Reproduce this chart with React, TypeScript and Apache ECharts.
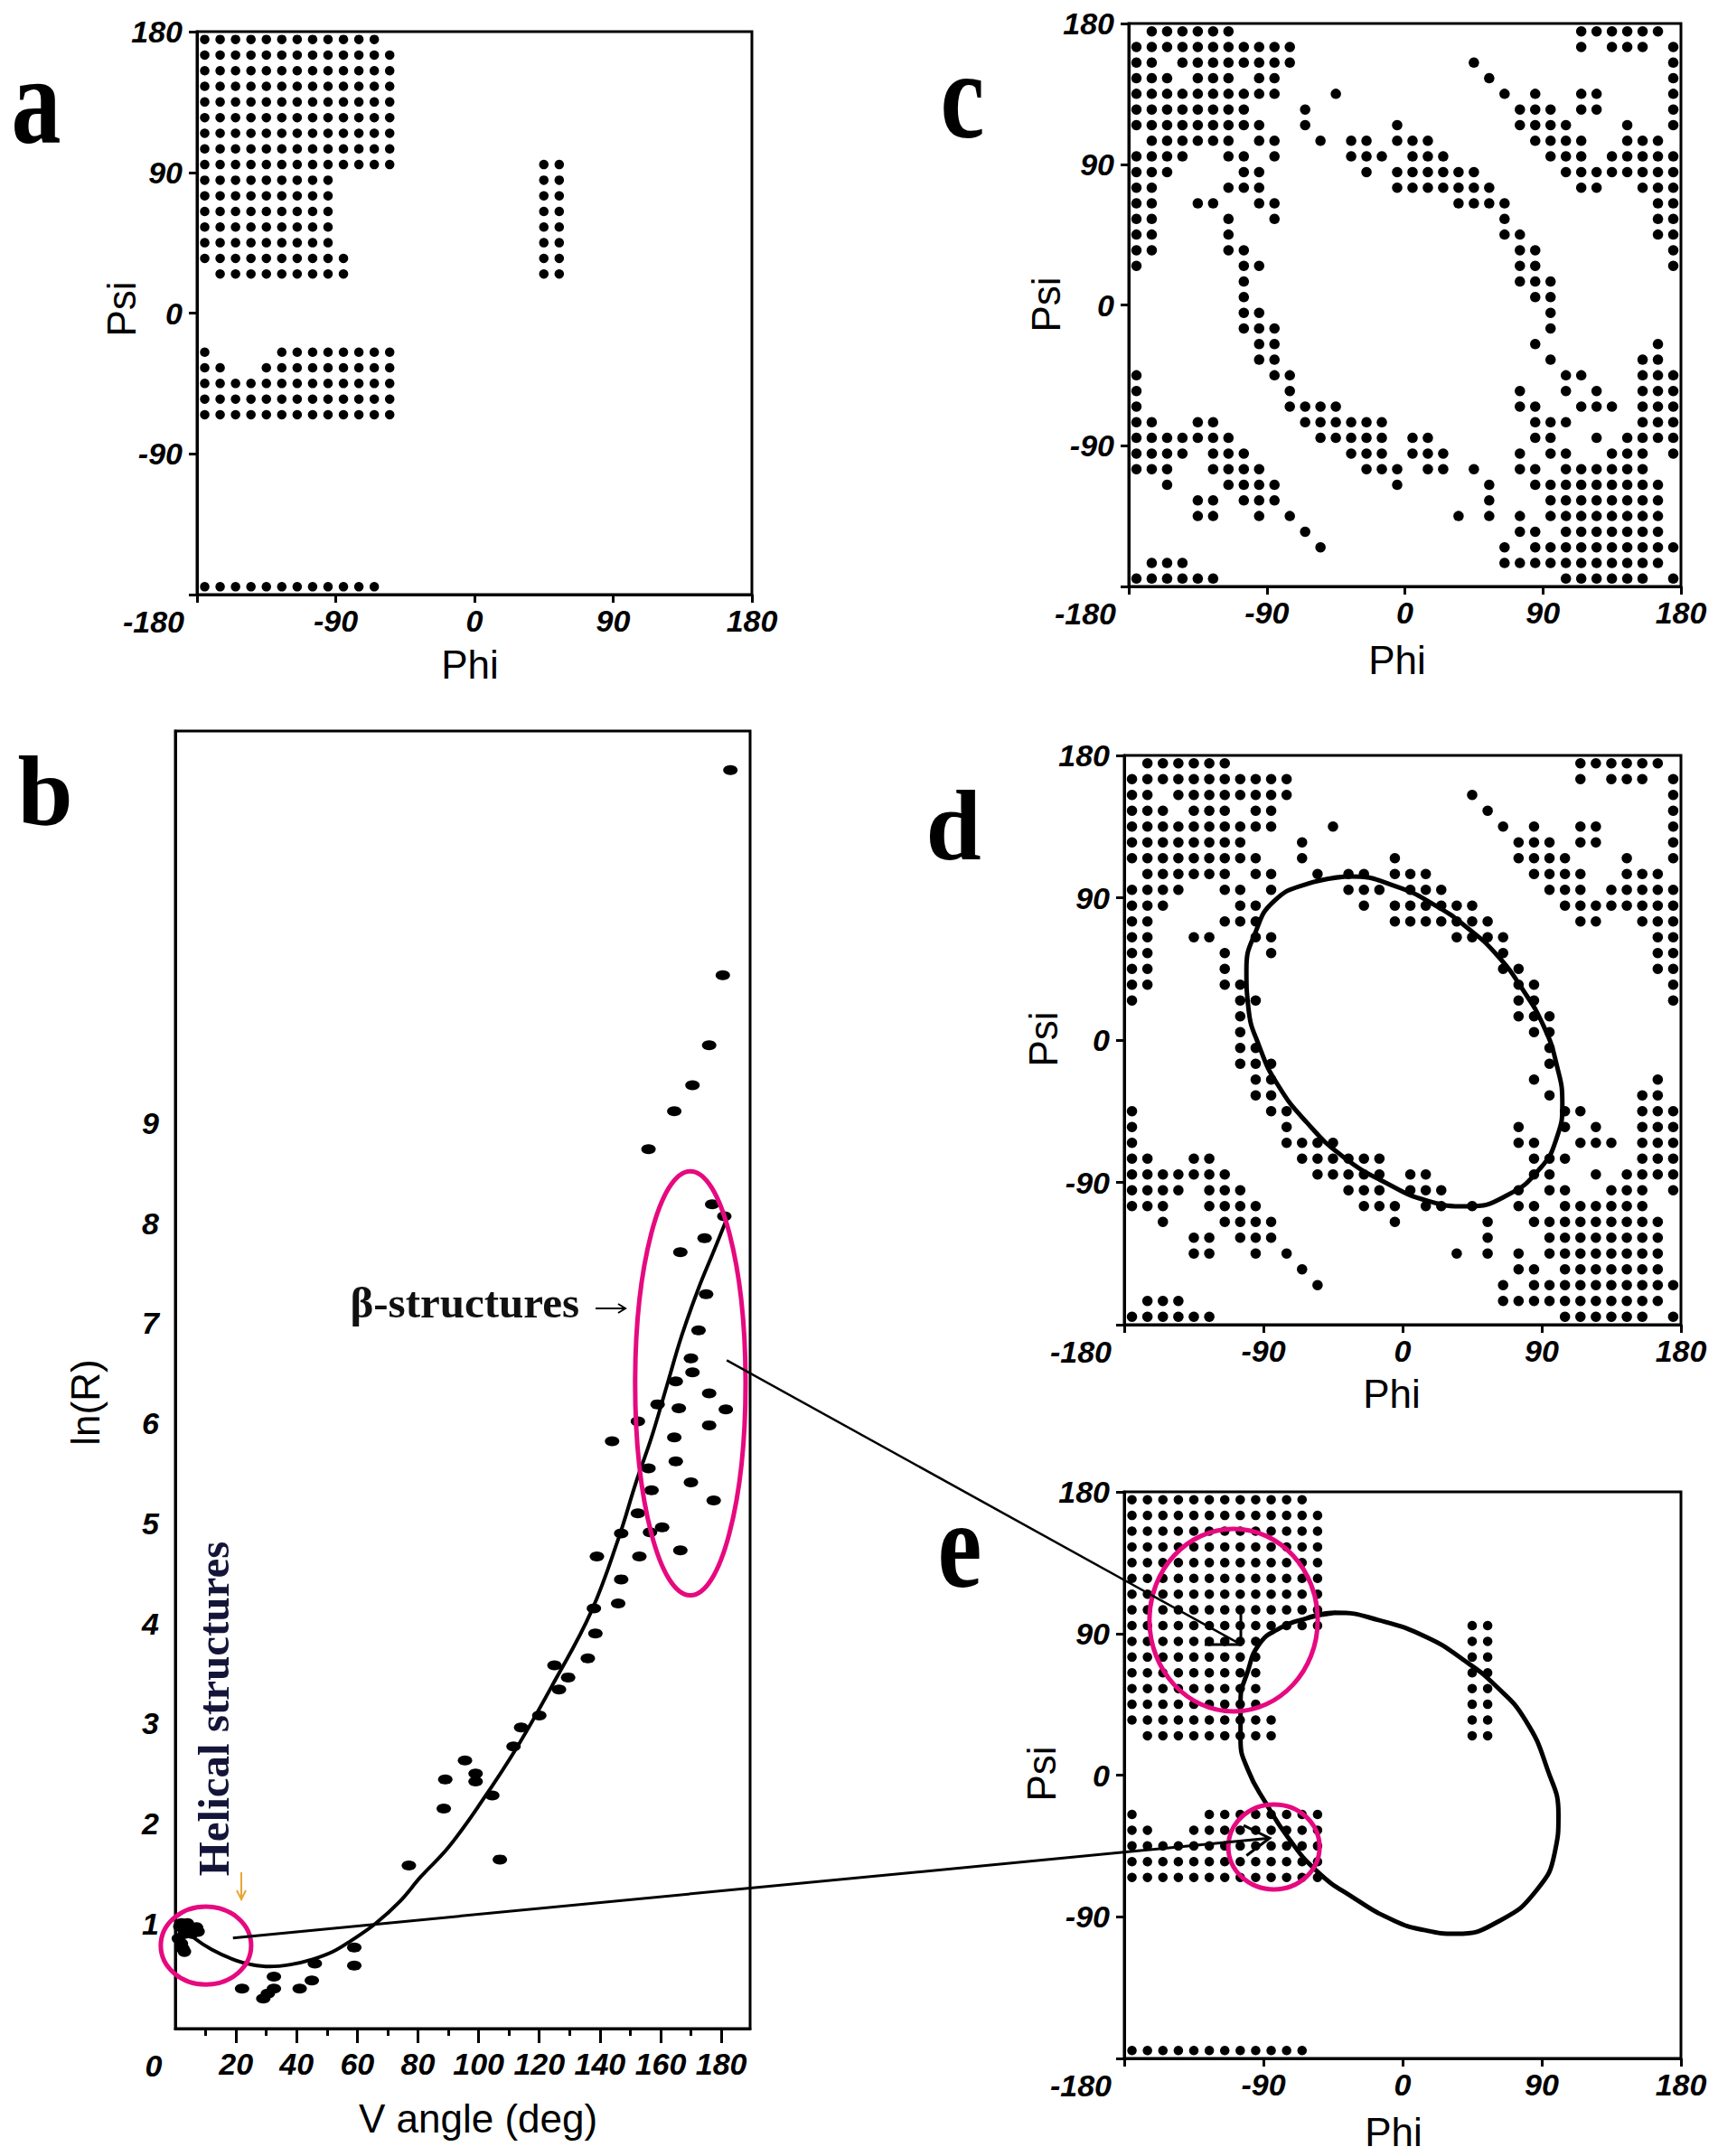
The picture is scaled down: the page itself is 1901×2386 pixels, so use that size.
import React, { useEffect, useRef } from "react";
import * as echarts from "echarts";

const CANVAS_W = 1901;
const CANVAS_H = 2386;

// ---------- Ramachandran maps (10° cells, centres -175 … 175) ----------
// one string per psi row, top (psi = 175) to bottom (psi = -175);
// entries are phi column indices: 0 → -175°, 1 → -165°, … 35 → 175°
const rowsA: string[] = [
  "0-11", "0-12", "0-12", "0-12", "0-12", "0-12", "0-12", "0-12",
  "0-12,22-23", "0-8,22-23", "0-8,22-23", "0-8,22-23", "0-8,22-23", "0-8,22-23",
  "0-9,22-23", "1-9,22-23",
  "", "", "", "",
  "0,5-12", "0-1,4-12", "0-12", "0-12", "0-12",
  "", "", "", "", "", "", "", "", "", "",
  "0-11",
];

const rowsC: string[] = [
  "1-6,29-34",
  "0-10,29,31-33,35",
  "0-1,3-10,22,35",
  "0-2,4-6,8-9,23,35",
  "0-9,13,24,26,29-30,35",
  "0-7,11,25-27,29-30,35",
  "0-8,11,17,25-28,32,35",
  "1-6,8-9,12,14-15,17-19,26-29,32-34",
  "0-3,6-7,9,14-16,18-20,27-29,31-35",
  "0-2,7-8,15,17-22,28-35",
  "0-1,6-8,17-23,29-30,33-35",
  "0-1,4-5,8-9,21-24,34-35",
  "0-1,6,9,24,34-35",
  "0-1,6,24-25,34-35",
  "0-1,6-7,25-26,35",
  "0,7-8,25-26,35",
  "7,25-27",
  "7,26-27",
  "7-8,27",
  "7-9,27",
  "8-9,26,34",
  "8-9,27,33-34",
  "0,9-10,28-29,33-35",
  "0,10,25,28,30,33-35",
  "0,10-13,25-26,29-31,33-35",
  "0-1,4-5,11-16,26-28,33-35",
  "0-6,12-16,18-19,26-27,30,32-35",
  "0-3,5-7,14-16,18-20,25,27-28,31-33,35",
  "0-2,5-8,15-17,19-20,22,25-26,28-33",
  "2,6-9,17,23,26-34",
  "4-5,7-9,23,27-34",
  "4-5,8,10,21,23,25,27-34",
  "11,25-26,28-34",
  "12,24,26-35",
  "1-3,24-34",
  "0-5,28-33,35",
];

// closed curves drawn over panels d and e (phi, psi)
const loopD: [number, number][] = [
  [-33.6, 103.5], [-62, 98.7], [-83.2, 87.8], [-95, 68.5], [-101, 44.4], [-99.7, 20.3],
  [-92.7, -3.9], [-80.9, -28], [-62, -52.1], [-38.4, -73.8], [-10, -90.7], [16, -101.6],
  [41.9, -105.2], [67.9, -98], [89.1, -81], [99.7, -61.8], [103.3, -40], [99.7, -15.9],
  [91.5, 8.2], [77.4, 32.3], [60.8, 54], [42, 70.9], [20.7, 85.4], [-5.3, 97.5],
  [-33.6, 103.5], [-62, 98.7],
];
const loopE: [number, number][] = [
  [-43.4, 103.2], [-62.3, 99.6], [-81.2, 92.4], [-93, 82.8], [-100.1, 66], [-104.8, 46.8],
  [-104.8, 22.8], [-100.1, 3.6], [-88.3, -18], [-74.1, -39.6], [-55.2, -61.2], [-31.6, -78],
  [-5.6, -92.4], [13.7, -98.4], [34.6, -100.8], [63, -92.4], [86.6, -73.2], [98.4, -49.2],
  [100.8, -25.2], [93.7, 3.6], [79.5, 34.8], [60.6, 56.4], [39.4, 73.2], [15.7, 87.6],
  [-15, 98.4], [-43.4, 103.2], [-62.3, 99.6],
];

// ---------- Panel b: ln(R) vs V angle ----------
const helicalPoints: [number, number][] = [
  [2, 1.0], [1.5, 0.97], [4, 1.0], [4.5, 0.95], [7, 0.96], [7.5, 0.92],
  [1, 0.85], [2, 0.8], [2.5, 0.75], [3, 0.9], [5.5, 0.9], [3, 0.72],
];
const vAnglePoints: [number, number][] = [
  [22, 0.35], [29, 0.25], [30.5, 0.3], [32.5, 0.35], [32.5, 0.47], [41, 0.35], [45, 0.43],
  [46, 0.6], [59, 0.76], [59, 0.58], [77, 1.58], [88.5, 2.15], [89, 2.44], [95.5, 2.63],
  [99, 2.5], [99, 2.42], [104.5, 2.28], [107, 1.64], [111.5, 2.77], [114, 2.96], [120, 3.08],
  [125, 3.58], [126.5, 3.34], [129.5, 3.46], [136, 3.65], [138.5, 3.9], [138, 4.15],
  [139, 4.67], [144, 5.82], [146, 4.2], [147, 4.44], [147, 4.9], [152.5, 5.1], [153, 4.67],
  [152.5, 6.02], [156, 5.55], [156.5, 4.91], [157, 5.33], [159, 6.19], [160.5, 4.96],
  [156, 8.74], [164.5, 9.12], [164.5, 5.86], [165, 5.62], [166, 6.15], [166.5, 7.71],
  [165, 6.42], [166.5, 4.73], [170, 6.65], [170.5, 6.51], [170.5, 9.38], [170, 5.41],
  [172.5, 6.93], [174.5, 7.85], [175, 7.29], [176, 6.3], [176, 5.98], [176, 9.78],
  [177, 8.19], [177.5, 5.23], [180.5, 10.48], [181, 8.07], [181.5, 6.14], [183, 12.53],
];
const fitCurve: [number, number][] = [
  [3, 0.95], [6, 0.86], [12, 0.74], [20, 0.63], [25, 0.59], [31, 0.57], [38, 0.59],
  [45, 0.64], [52, 0.72], [58, 0.83], [66, 1.0], [74, 1.22], [81, 1.47], [90, 1.76],
  [101, 2.22], [113, 2.78], [125, 3.42], [137, 4.11], [146, 4.84], [152, 5.42],
  [157, 5.86], [162, 6.37], [167, 6.88], [172.5, 7.35], [177.5, 7.72], [181.5, 8.02],
];

// ---------- axis ticks / labels ----------
const phiLabelValues = [-90, 0, 90, 180];
const psiLabelValues = [-90, 0, 90, 180];
const vMajorTicks = [20, 40, 60, 80, 100, 120, 140, 160, 180];
const vMinorTicks = [10, 30, 50, 70, 90, 110, 130, 150, 170];
const lnRLabelValues = [1, 2, 3, 4, 5, 6, 7, 8, 9];

// ---------- annotation shapes (data coordinates) ----------
const helicalMark = { center: [10.1, 0.78], radius: [14.9, 0.39] };
const betaMark = { center: [169.8, 6.4], radius: [18.2, 2.12] };
const eUpperMark = { center: [-109.3, 98.5], radius: [54.4, 58] };
const eLowerMark = { center: [-83.2, -45.6], radius: [29.5, 27] };
const helicalArrow = { from: [19, 0.856], to: [-86, -40] };
const betaArrow = { from: [181.8, 6.63], to: [-104.6, 83] };

const GRIDS = [
  { left: 218, top: 35, width: 614, height: 623 }, // a
  { left: 1249, top: 26, width: 611, height: 623 }, // c
  { left: 1244, top: 836, width: 616, height: 630 }, // d
  { left: 1244, top: 1651, width: 616, height: 627 }, // e
  { left: 194, top: 809, width: 636, height: 1436 }, // b
];

const PINK = "#E6097F";
const SANS = '"Liberation Sans", Arial, sans-serif';
const SERIF = '"Liberation Serif", "Times New Roman", serif';

const tickFont = {
  fontFamily: SANS,
  fontSize: 34,
  fontStyle: "italic" as const,
  fontWeight: "bold" as const,
  color: "#000",
};

function parseRows(rows: string[]): [number, number][] {
  const pts: [number, number][] = [];
  rows.forEach((row, r) => {
    if (!row) return;
    const psi = 175 - 10 * r;
    row.split(",").forEach((part) => {
      const [a, b] = part.split("-").map(Number);
      const end = b === undefined || isNaN(b) ? a : b;
      for (let k = a; k <= end; k++) pts.push([-175 + 10 * k, psi]);
    });
  });
  return pts;
}

function ramaX(i: number) {
  return {
    gridIndex: i,
    type: "value",
    min: -180,
    max: 180,
    interval: 90,
    position: "bottom",
    axisLine: { show: true, onZero: false, lineStyle: { color: "#000", width: 3 } },
    axisTick: { show: true, length: 9, lineStyle: { color: "#000", width: 3 } },
    axisLabel: { ...tickFont, margin: 12, customValues: phiLabelValues },
    splitLine: { show: false },
  };
}
function ramaY(i: number) {
  return {
    gridIndex: i,
    type: "value",
    min: -180,
    max: 180,
    interval: 90,
    position: "left",
    axisLine: { show: true, onZero: false, lineStyle: { color: "#000", width: 3 } },
    axisTick: { show: true, length: 9, lineStyle: { color: "#000", width: 3 } },
    axisLabel: { ...tickFont, margin: 16, customValues: psiLabelValues },
    splitLine: { show: false },
  };
}

function buildOption() {
  const dotsA = parseRows(rowsA);
  const dotsC = parseRows(rowsC);
  const dot = (i: number, data: [number, number][], size: number | number[]) => ({
    type: "scatter",
    xAxisIndex: i,
    yAxisIndex: i,
    data,
    symbol: "circle",
    symbolSize: size,
    itemStyle: { color: "#000", opacity: 1 },
    silent: true,
    z: 2,
  });
  const loop = (i: number, data: [number, number][]) => ({
    type: "line",
    xAxisIndex: i,
    yAxisIndex: i,
    data,
    smooth: 0.5,
    symbol: "none",
    lineStyle: { color: "#000", width: 5 },
    silent: true,
    z: 3,
  });
  return {
    animation: false,
    backgroundColor: "#fff",
    grid: GRIDS.map((g) => ({ ...g, show: true, borderColor: "#000", borderWidth: 3, backgroundColor: "transparent" })),
    xAxis: [
      ramaX(0),
      ramaX(1),
      ramaX(2),
      ramaX(3),
      {
        gridIndex: 4,
        type: "value",
        min: 0,
        max: 189.5,
        position: "bottom",
        axisLine: { show: true, onZero: false, lineStyle: { color: "#000", width: 3 } },
        axisTick: { show: true, length: 16, customValues: vMajorTicks, lineStyle: { color: "#000", width: 3 } },
        axisLabel: { ...tickFont, margin: 22, customValues: vMajorTicks },
        splitLine: { show: false },
      },
      {
        gridIndex: 4,
        type: "value",
        min: 0,
        max: 189.5,
        position: "bottom",
        axisLine: { show: false, onZero: false },
        axisTick: { show: true, length: 8, customValues: vMinorTicks, lineStyle: { color: "#000", width: 3 } },
        axisLabel: { show: false },
        splitLine: { show: false },
      },
    ],
    yAxis: [
      ramaY(0),
      ramaY(1),
      ramaY(2),
      ramaY(3),
      {
        gridIndex: 4,
        type: "value",
        min: -0.05,
        max: 12.92,
        position: "left",
        axisLine: { show: true, onZero: false, lineStyle: { color: "#000", width: 3 } },
        axisTick: { show: false },
        axisLabel: { ...tickFont, margin: 18, customValues: lnRLabelValues },
        splitLine: { show: false },
      },
    ],
    series: [
      dot(0, dotsA, 10.5),
      dot(1, dotsC, 11.5),
      dot(2, dotsC, 11.5),
      dot(3, dotsA, 10.5),
      loop(2, loopD),
      loop(3, loopE),
      {
        type: "line",
        xAxisIndex: 4,
        yAxisIndex: 4,
        data: fitCurve,
        smooth: 0.4,
        symbol: "none",
        lineStyle: { color: "#000", width: 4 },
        silent: true,
        z: 3,
      },
      { ...dot(4, vAnglePoints, [16, 11]) },
      { ...dot(4, helicalPoints, [15, 12]) },
    ],
  };
}

function buildGraphic(chart: any) {
  const px = (gi: number, p: number[]) => chart.convertToPixel({ gridIndex: gi }, p) as number[];
  const els: any[] = [];

  const text = (x: number, y: number, t: string, o: any = {}) => {
    const { rotation, scaleY, ...style } = o;
    els.push({
      type: "text",
      x,
      y,
      rotation: rotation || 0,
      scaleY: scaleY || 1,
      z: 120,
      style: {
        text: t,
        fill: "#000",
        fontFamily: SANS,
        fontSize: 44,
        align: "center",
        verticalAlign: "middle",
        ...style,
      },
    });
  };

  // panel letters
  const letter = { fontFamily: SERIF, fontWeight: "bold", fontSize: 110 };
  text(40, 112, "a", { ...letter, scaleY: 1.25 });
  text(50, 876, "b", letter);
  text(1065, 106, "c", { ...letter, scaleY: 1.25 });
  text(1055, 914, "d", letter);
  text(1062, 1710, "e", { ...letter, scaleY: 1.25 });

  // axis titles
  text(520, 735, "Phi");
  text(134, 342, "Psi", { rotation: Math.PI / 2 });
  text(1546, 730, "Phi");
  text(1157, 337, "Psi", { rotation: Math.PI / 2 });
  text(1540, 1542, "Phi");
  text(1154, 1150, "Psi", { rotation: Math.PI / 2 });
  text(1542, 2359, "Phi");
  text(1152, 1963, "Psi", { rotation: Math.PI / 2 });
  text(94, 1552, "ln(R)", { rotation: Math.PI / 2 });
  text(529, 2344, "V angle (deg)");

  // corner "-180" labels of the phi axes, and the "0" of panel b
  for (let g = 0; g < 4; g++) {
    const p = px(g, [-180, -180]);
    text(p[0] - 14, p[1] + 30, "-180", { ...tickFont, fill: "#000", align: "right" });
  }
  {
    const p = px(4, [0, -0.05]);
    text(p[0] - 24, p[1] + 41, "0", { ...tickFont, fill: "#000" });
  }

  // pink marks
  const ell = (gi: number, m: { center: number[]; radius: number[] }) => {
    const c = px(gi, m.center);
    const ex = px(gi, [m.center[0] + m.radius[0], m.center[1]]);
    const ey = px(gi, [m.center[0], m.center[1] + m.radius[1]]);
    els.push({
      type: "ellipse",
      z: 110,
      shape: { cx: c[0], cy: c[1], rx: Math.abs(ex[0] - c[0]), ry: Math.abs(ey[1] - c[1]) },
      style: { fill: "none", stroke: PINK, lineWidth: 5 },
    });
  };
  ell(4, helicalMark);
  ell(4, betaMark);
  ell(3, eUpperMark);
  ell(3, eLowerMark);

  // connecting arrows
  const line = (x1: number, y1: number, x2: number, y2: number, color = "#000", w = 2.5) =>
    els.push({ type: "line", z: 115, shape: { x1, y1, x2, y2 }, style: { stroke: color, lineWidth: w } });
  const poly = (points: number[][], color = "#000", w = 2.5) =>
    els.push({ type: "polyline", z: 115, shape: { points }, style: { stroke: color, lineWidth: w, fill: null } });

  {
    const s = px(4, helicalArrow.from);
    const t = px(3, helicalArrow.to);
    line(s[0], s[1], t[0], t[1], "#000", 3);
    const a = Math.atan2(t[1] - s[1], t[0] - s[0]);
    const L = 32;
    const arm = (d: number) => [t[0] - L * Math.cos(a + d), t[1] - L * Math.sin(a + d)];
    poly([arm(0.55), t, arm(-0.55)], "#000", 3);
  }
  {
    const s = px(4, betaArrow.from);
    const t = px(3, betaArrow.to);
    line(s[0], s[1], t[0], t[1], "#000", 2.5);
    poly([[t[0], t[1] - 36], t, [t[0] - 40, t[1]]], "#000", 3);
  }

  // text annotations in panel b
  text(641, 1441, "β-structures", { fontFamily: SERIF, fontWeight: "bold", fontSize: 49, align: "right", fill: "#111" });
  line(659, 1448, 692, 1448, "#000", 2);
  poly([[684, 1443], [692, 1448], [684, 1453]], "#000", 2);
  text(236, 1891, "Helical structures", {
    fontFamily: SERIF,
    fontWeight: "bold",
    fontSize: 49,
    fill: "#15153a",
    rotation: Math.PI / 2,
  });
  line(267, 2072, 267, 2102, "#E8A735", 2);
  poly([[262, 2092], [267, 2102], [272, 2092]], "#E8A735", 2);

  return els;
}

export default function App() {
  const ref = useRef<HTMLDivElement>(null);
  useEffect(() => {
    document.body.style.margin = "0";
    const chart = echarts.init(ref.current!, null, { renderer: "svg" });
    chart.setOption(buildOption() as any);
    chart.setOption({ graphic: buildGraphic(chart) } as any);
    return () => chart.dispose();
  }, []);
  return <div ref={ref} style={{ width: CANVAS_W, height: CANVAS_H, background: "#fff" }} />;
}
